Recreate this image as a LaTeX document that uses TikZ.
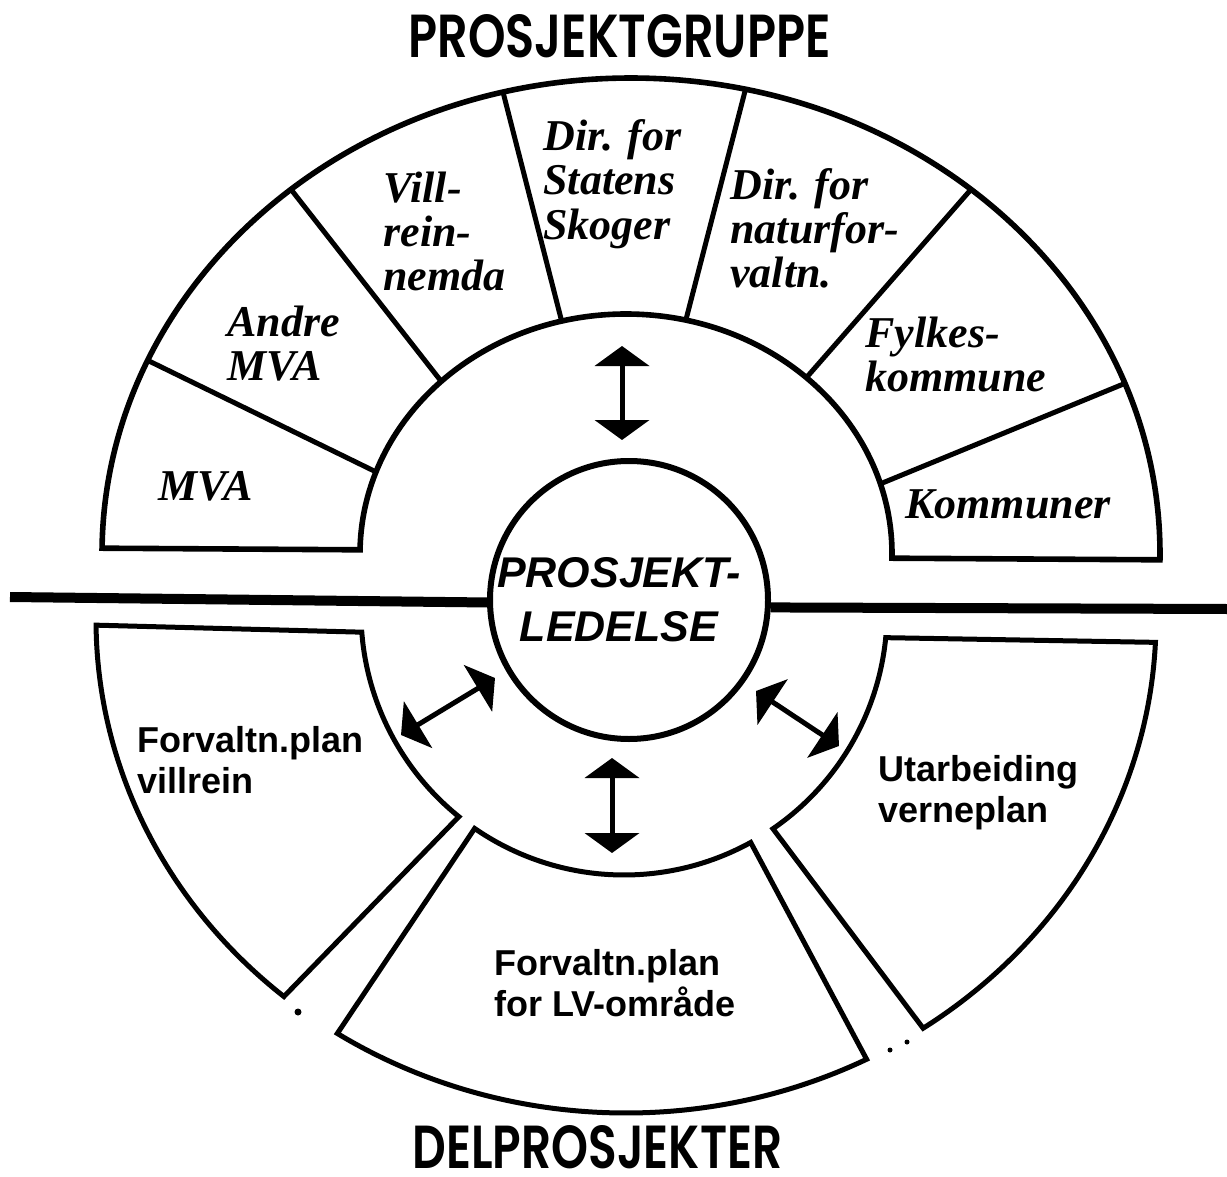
\documentclass[tikz,border=0pt]{standalone}
\usepackage{fontspec}
\usepackage{graphicx}
\usetikzlibrary{arrows.meta}
\setmainfont{Liberation Serif}
\newfontfamily\helv{Liberation Sans}
\newfontfamily\geo{Poppins}[BoldFont=* SemiBold]

\begin{document}
\begin{tikzpicture}[x=0.5pt,y=0.5pt,
        arrow/.style = {line width=2.5pt,{Triangle[length=10pt,width=27pt]}-{Triangle[length=10pt,width=27pt]}},
        rim/.style = {line width=2.8pt,line join=miter},
        part/.style = {line width=2.5pt},
        box/.style = {line width=2.5pt,line join=miter},
        seg/.style = {font=\fontsize{22}{22}\selectfont\bfseries\itshape,align=left,anchor=base west,inner sep=0pt},
        sub/.style = {font=\helv\fontsize{18}{20.5}\selectfont\bfseries,align=left,anchor=base west,inner sep=0pt},
        title/.style = {font=\geo\bfseries,anchor=base west,inner sep=0pt,text depth=0pt}]
                \useasboundingbox (0,0) rectangle (1227,-1177);

                \draw[rim] ([shift={(631,-554)}]179.3:529 and 476)
                    arc[start angle=179.3,end angle=-0.7,x radius=529,y radius=476]
                    -- ([shift={(626,-554)}]-1:266 and 240)
                    arc[start angle=-1,end angle=179,x radius=266,y radius=240] -- cycle;
                \draw[part] ([shift={(626,-554)}]160:266 and 240) -- ([shift={(631,-554)}]156:529 and 476);
                \draw[part] ([shift={(626,-554)}]134:266 and 240) -- ([shift={(631,-554)}]130:529 and 476);
                \draw[part] ([shift={(626,-554)}]104:266 and 240) -- ([shift={(631,-554)}]104:529 and 476);
                \draw[part] ([shift={(626,-554)}]77:266 and 240) -- ([shift={(631,-554)}]77.5:529 and 476);
                \draw[part] ([shift={(626,-554)}]47.3:266 and 240) -- ([shift={(631,-554)}]50:529 and 476);
                \draw[part] ([shift={(626,-554)}]17:266 and 240) -- ([shift={(631,-554)}]21:529 and 476);

                \node[seg] (mva) at (158,-500) {MVA};
                \node[seg] (andre) at (227,-380) {Andre\\MVA};
                \node[seg] (vill) at (383,-290) {Vill-\\rein-\\nemda};
                \node[seg] (skog) at (543,-239) {Dir. for\\Statens\\Skoger};
                \node[seg] (natur) at (730,-287) {Dir. for\\naturfor-\\valtn.};
                \node[seg] (fylke) at (865,-391) {Fylkes-\\kommune};
                \node[seg] (komm) at (905,-518) {Kommuner};

                \draw[box] ([shift={(626,-620)}]180.6:530 and 493)
                    -- ([shift={(624,-612)}]184.4:263 and 263)
                    arc[start angle=184.4,end angle=231.1,radius=263]
                    -- ([shift={(626,-620)}]229.8:530 and 493)
                    arc[start angle=229.8,end angle=180.6,x radius=530,y radius=493] -- cycle;
                \draw[box] ([shift={(624,-612)}]235.4:263 and 263)
                    arc[start angle=235.4,end angle=298.8,radius=263]
                    -- ([shift={(626,-620)}]297:530 and 493)
                    arc[start angle=297,end angle=237,x radius=530,y radius=493] -- cycle;
                \draw[box] ([shift={(624,-612)}]354.4:263 and 263)
                    -- ([shift={(626,-620)}]357.4:530 and 493)
                    arc[start angle=357.4,end angle=304.1,x radius=530,y radius=493]
                    -- ([shift={(624,-612)}]304.5:263 and 263)
                    arc[start angle=304.5,end angle=354.4,radius=263] -- cycle;
                \fill (298,-1012) circle[radius=3.5];
                \fill (890,-1050) circle[radius=2.5];
                \fill (907,-1042) circle[radius=2.5];

                \node[sub] (villrein) at (137,-793) {Forvaltn.plan\\villrein};
                \node[sub] (verne) at (878,-822) {Utarbeiding\\verneplan};
                \node[sub] (lvomr) at (494,-1016) {Forvaltn.plan\\for LV-omr\r{a}de};

                \node[draw,circle,line width=3pt,fill=white,minimum size=139pt,inner sep=0pt] 
                    (lead) at (629,-600) {};
                \draw[line width=5pt] (10,-597) -- (lead.181);
                \draw[line width=5pt] (lead.-3) -- (1227,-609);
                \node[font=\helv\fontsize{21.5}{27}\selectfont\bfseries\itshape,align=center] 
                    (leadlbl) at (619,-600) {PROSJEKT-\\LEDELSE};

                \coordinate (up1) at (622,-346);
                \coordinate (up2) at (622,-440);
                \coordinate (dn1) at (612,-758);
                \coordinate (dn2) at (612,-853);
                \coordinate (lf1) at (401,-735);
                \coordinate (lf2) at (495,-678);
                \coordinate (rt1) at (756,-691);
                \coordinate (rt2) at (839,-746);
                \draw[arrow] (up1) -- (up2);
                \draw[arrow] (dn1) -- (dn2);
                \draw[arrow] (lf1) -- (lf2);
                \draw[arrow] (rt1) -- (rt2);

                \node[title] (grp) at (408,-58) {\resizebox{211pt}{21.5pt}{PROSJEKTGRUPPE}};
                \node[title] (delp) at (412,-1168) {\resizebox{185pt}{21.5pt}{DELPROSJEKTER}};
            \end{tikzpicture}
\end{document}
